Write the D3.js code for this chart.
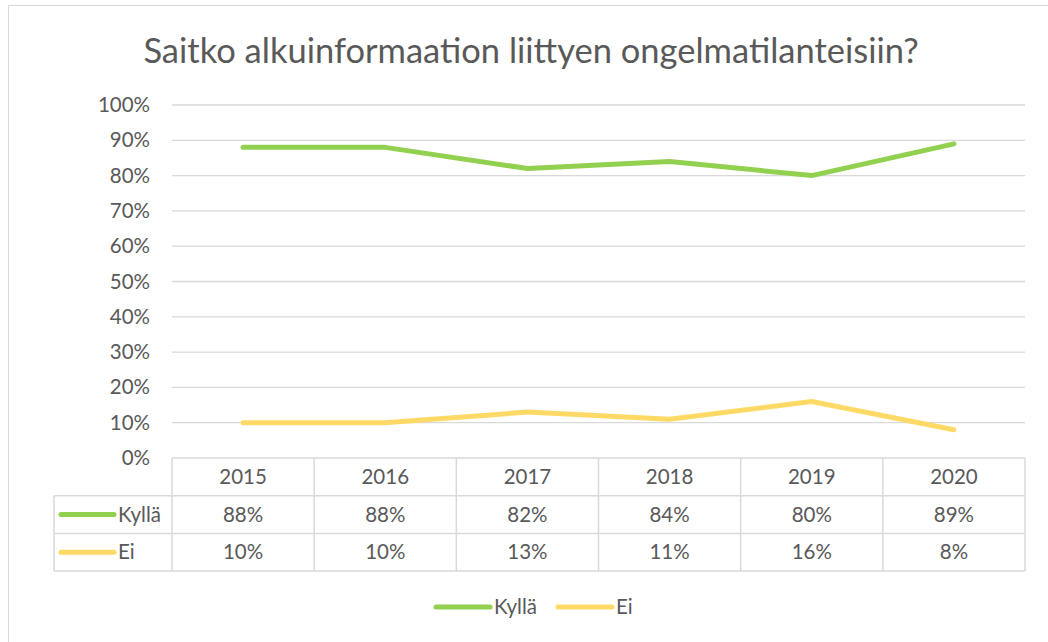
<!DOCTYPE html>
<html>
<head>
<meta charset="utf-8">
<script src="https://cdn.jsdelivr.net/npm/d3@7"></script>
<style>
  body { margin: 0; background: #fff; }
  text { font-family: Lato, "Open Sans", sans-serif; fill: #595959; }
</style>
</head>
<body>
<div id="chart"></div>
<script>
const years = ["2015", "2016", "2017", "2018", "2019", "2020"];
const kylla = [88, 88, 82, 84, 80, 89];
const ei = [10, 10, 13, 11, 16, 8];
const yTicks = [0, 10, 20, 30, 40, 50, 60, 70, 80, 90, 100];

const series = [
  { name: "Kyllä", values: kylla, color: "#92d050" },
  { name: "Ei", values: ei, color: "#ffd966" }
];

const width = 1048, height = 642;
const plot = { left: 172, right: 1025, top: 105, bottom: 458 };
const rowH = 37.7;
const tableLeft = 54;
const fs = 20.5;

const svg = d3.select("#chart").append("svg")
  .attr("width", width)
  .attr("height", height);

// chart frame
svg.append("rect")
  .attr("x", 8.5).attr("y", 5.5)
  .attr("width", 1100).attr("height", 700)
  .attr("fill", "none").attr("stroke", "#d9d9d9");

svg.append("text")
  .attr("x", 531).attr("y", 63)
  .attr("text-anchor", "middle")
  .attr("font-size", 34.5)
  .text("Saitko alkuinformaation liittyen ongelmatilanteisiin?");

const x = d3.scaleBand().domain(years).range([plot.left, plot.right]);
const y = d3.scaleLinear().domain([0, 100]).range([plot.bottom, plot.top]);

// grid
svg.append("g").selectAll("line")
  .data(yTicks.filter(d => d > 0))
  .enter().append("line")
  .attr("x1", plot.left).attr("x2", plot.right)
  .attr("y1", d => y(d)).attr("y2", d => y(d))
  .attr("stroke", "#d9d9d9").attr("stroke-width", 1.3);

svg.append("g").selectAll("text")
  .data(yTicks)
  .enter().append("text")
  .attr("x", 150).attr("y", d => y(d) + 7)
  .attr("text-anchor", "end")
  .attr("font-size", fs)
  .text(d => d + "%");

// lines
const line = d3.line()
  .x((d, i) => x(years[i]) + x.bandwidth() / 2)
  .y(d => y(d));

svg.append("g").selectAll("path")
  .data(series)
  .enter().append("path")
  .attr("d", d => line(d.values))
  .attr("fill", "none")
  .attr("stroke", d => d.color)
  .attr("stroke-width", 5)
  .attr("stroke-linecap", "round")
  .attr("stroke-linejoin", "round");

// data table
const table = svg.append("g").attr("stroke", "#d9d9d9").attr("stroke-width", 1.5);
const tBottom = plot.bottom + rowH * 3;
[0, 1, 2, 3].forEach(r => {
  table.append("line")
    .attr("x1", r === 0 ? plot.left : tableLeft).attr("x2", plot.right)
    .attr("y1", plot.bottom + r * rowH).attr("y2", plot.bottom + r * rowH);
});
table.append("line")
  .attr("x1", tableLeft).attr("x2", tableLeft)
  .attr("y1", plot.bottom + rowH).attr("y2", tBottom);
years.forEach((yr, i) => {
  table.append("line")
    .attr("x1", x(yr)).attr("x2", x(yr))
    .attr("y1", plot.bottom).attr("y2", tBottom);
});
table.append("line")
  .attr("x1", plot.right).attr("x2", plot.right)
  .attr("y1", plot.bottom).attr("y2", tBottom);

svg.append("g").selectAll("text")
  .data(years)
  .enter().append("text")
  .attr("x", d => x(d) + x.bandwidth() / 2)
  .attr("y", plot.bottom + rowH / 2 + 7)
  .attr("text-anchor", "middle")
  .attr("font-size", fs)
  .text(d => d);

series.forEach((s, r) => {
  const cy = plot.bottom + rowH * (r + 1) + rowH / 2;
  const g = svg.append("g");
  g.append("line")
    .attr("x1", 61).attr("x2", 114)
    .attr("y1", cy).attr("y2", cy)
    .attr("stroke", s.color).attr("stroke-width", 5)
    .attr("stroke-linecap", "round");
  g.append("text")
    .attr("x", 118).attr("y", cy + 7)
    .attr("font-size", fs)
    .text(s.name);
  g.selectAll(".val")
    .data(s.values)
    .enter().append("text")
    .attr("x", (d, i) => x(years[i]) + x.bandwidth() / 2)
    .attr("y", cy + 7)
    .attr("text-anchor", "middle")
    .attr("font-size", fs)
    .text(d => d + "%");
});

// legend
const legendX = [436, 558];
series.forEach((s, i) => {
  const ly = 607;
  svg.append("line")
    .attr("x1", legendX[i]).attr("x2", legendX[i] + 54)
    .attr("y1", ly).attr("y2", ly)
    .attr("stroke", s.color).attr("stroke-width", 5)
    .attr("stroke-linecap", "round");
  svg.append("text")
    .attr("x", legendX[i] + 58).attr("y", ly + 7)
    .attr("font-size", fs)
    .text(s.name);
});
</script>
</body>
</html>
